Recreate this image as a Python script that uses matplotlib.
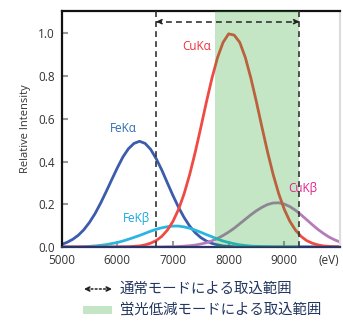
import matplotlib
matplotlib.use("Agg")
import matplotlib.pyplot as plt
from matplotlib.patches import Rectangle

plt.rcParams['font.family'] = ['Open Sans', 'Noto Sans CJK JP', 'DejaVu Sans']

# energy grid (eV) and relative intensities
energy = [5000, 5100, 5200, 5300, 5400, 5500, 5600, 5700, 5800, 5900,
          6000, 6100, 6200, 6300, 6400, 6500, 6600, 6700, 6800, 6900,
          7000, 7100, 7200, 7300, 7400, 7500, 7600, 7700, 7800, 7900,
          8000, 8100, 8200, 8300, 8400, 8500, 8600, 8700, 8800, 8900,
          9000, 9100, 9200, 9300, 9400, 9500, 9600, 9700, 9800, 9900, 10000]

fe_ka = [0.012, 0.022, 0.036, 0.055, 0.081, 0.115, 0.156, 0.205, 0.259, 0.315,
         0.370, 0.421, 0.460, 0.485, 0.495, 0.485, 0.457, 0.413, 0.360, 0.300,
         0.241, 0.186, 0.138, 0.098, 0.067, 0.044, 0.028, 0.017, 0.010, 0.005,
         0.003, 0.001, 0.0, 0.0, 0.0, 0.0, 0.0, 0.0, 0.0, 0.0,
         0.0, 0.0, 0.0, 0.0, 0.0, 0.0, 0.0, 0.0, 0.0, 0.0, 0.0]

fe_kb = [0.0, 0.0, 0.0, 0.0, 0.001, 0.003, 0.005, 0.008, 0.011, 0.016,
         0.021, 0.028, 0.036, 0.045, 0.054, 0.064, 0.074, 0.083, 0.090, 0.095,
         0.098, 0.098, 0.094, 0.088, 0.079, 0.069, 0.058, 0.048, 0.037, 0.028,
         0.021, 0.015, 0.010, 0.007, 0.004, 0.003, 0.002, 0.001, 0.0, 0.0,
         0.0, 0.0, 0.0, 0.0, 0.0, 0.0, 0.0, 0.0, 0.0, 0.0, 0.0]

cu_ka = [0.0, 0.0, 0.0, 0.0, 0.0, 0.0, 0.0, 0.0, 0.0, 0.0,
         0.0, 0.001, 0.001, 0.003, 0.005, 0.010, 0.018, 0.030, 0.050, 0.079,
         0.120, 0.176, 0.249, 0.339, 0.444, 0.559, 0.678, 0.790, 0.887, 0.958,
         0.998, 0.992, 0.958, 0.887, 0.790, 0.678, 0.559, 0.444, 0.339, 0.249,
         0.176, 0.120, 0.079, 0.050, 0.030, 0.018, 0.010, 0.005, 0.003, 0.001, 0.001]

cu_kb = [0.0, 0.0, 0.0, 0.0, 0.0, 0.0, 0.0, 0.0, 0.0, 0.0,
         0.0, 0.0, 0.0, 0.0, 0.0, 0.0, 0.0, 0.0, 0.0, 0.001,
         0.001, 0.002, 0.004, 0.006, 0.009, 0.014, 0.020, 0.029, 0.040, 0.054,
         0.070, 0.088, 0.109, 0.130, 0.151, 0.170, 0.186, 0.199, 0.206, 0.207,
         0.201, 0.189, 0.172, 0.151, 0.128, 0.105, 0.083, 0.064, 0.047, 0.034, 0.023]

normal_range = [6700, 9270]      # 通常モード
reduced_range = [7750, 9270]     # 蛍光低減モード
x_ticks = [5000, 6000, 7000, 8000, 9000, 9800]
x_labels = ['5000', '6000', '7000', '8000', '9000', '(eV)']
y_ticks = [0.0, 0.2, 0.4, 0.6, 0.8, 1.0]

W, H = 343, 333
fig = plt.figure(figsize=(W / 100, H / 100), dpi=100)
ax = fig.add_axes([61.6 / W, 1 - 247 / H, (340 - 61.6) / W, (247 - 11) / H])

lw = 2.0
ax.plot(energy, fe_ka, color='#3b5cad', lw=lw, zorder=2)
ax.plot(energy, cu_kb, color='#b47cba', lw=lw, zorder=2)
ax.plot(energy, fe_kb, color='#2bb6e0', lw=lw, zorder=2)
ax.plot(energy, cu_ka, color='#f04a45', lw=lw, zorder=2)

# green band lies over the curves
ax.axvspan(reduced_range[0], reduced_range[1], color=(0.145, 0.64, 0.17),
           alpha=0.27, lw=0, zorder=3)

for xv in normal_range:
    ax.axvline(xv, color='#333333', lw=1.2, ls=(0, (3.5, 2.5)), zorder=4)

# dashed double arrow along the top
ya = 1.055
ax.plot(normal_range, [ya, ya], color='#333333', lw=1.2, ls=(0, (3.5, 2.5)), zorder=4)
ax.annotate('', xy=(normal_range[0], ya), xytext=(normal_range[0] + 90, ya),
            arrowprops=dict(arrowstyle='->', color='#222222', lw=1.2,
                            shrinkA=0, shrinkB=0, mutation_scale=7), zorder=5)
ax.annotate('', xy=(normal_range[1], ya), xytext=(normal_range[1] - 90, ya),
            arrowprops=dict(arrowstyle='->', color='#222222', lw=1.2,
                            shrinkA=0, shrinkB=0, mutation_scale=7), zorder=5)

# peak labels
ax.text(6105, 0.556, 'FeKα', color='#2f6cb3', fontsize=8.5, ha='center', va='center')
ax.text(7419, 0.938, 'CuKα', color='#ee2e38', fontsize=8.5, ha='center', va='center')
ax.text(6345, 0.134, 'FeKβ', color='#1aa7e0', fontsize=8.5, ha='center', va='center')
ax.text(9328, 0.275, 'CuKβ', color='#e0208c', fontsize=8.5, ha='center', va='center')

ax.set_xlim(5000, 10000)
ax.set_ylim(0, 1.105)
ax.set_xticks(x_ticks)
ax.set_xticklabels(x_labels)
ax.set_yticks(y_ticks)
ax.set_yticklabels([f'{v:.1f}' for v in y_ticks])
ax.xaxis.get_major_ticks()[-1].tick1line.set_visible(False)
ax.tick_params(direction='in', length=4, width=1.5, color='#999999',
               labelsize=8.5, labelcolor='#333333')
ax.tick_params(axis='x', pad=5)
ax.tick_params(axis='y', pad=5)
ax.set_ylabel('Relative Intensity', fontsize=8, color='#333333', labelpad=5)

ax.spines['top'].set_color('#111111')
ax.spines['left'].set_color('#111111')
ax.spines['bottom'].set_color('#2a3466')
ax.spines['right'].set_color('#dddddd')
for s in ax.spines.values():
    s.set_linewidth(1.6)

# legend below the chart, figure pixel coords
txt_col = '#22365f'
ly1 = H - 289
ly2 = H - 310.5
ax.annotate('', xy=(110, ly1), xytext=(87, ly1), xycoords='figure pixels',
            textcoords='figure pixels', annotation_clip=False,
            arrowprops=dict(arrowstyle='-', color='#333333', lw=1.2,
                            ls=(0, (1, 1.5)), shrinkA=0, shrinkB=0))
ax.annotate('', xy=(84, ly1), xytext=(89, ly1), xycoords='figure pixels',
            textcoords='figure pixels', annotation_clip=False,
            arrowprops=dict(arrowstyle='->', color='#222222', lw=1.2,
                            shrinkA=0, shrinkB=0, mutation_scale=7))
ax.annotate('', xy=(112, ly1), xytext=(107, ly1), xycoords='figure pixels',
            textcoords='figure pixels', annotation_clip=False,
            arrowprops=dict(arrowstyle='->', color='#222222', lw=1.2,
                            shrinkA=0, shrinkB=0, mutation_scale=7))
ax.annotate('通常モードによる取込範囲', xy=(120, ly1), xycoords='figure pixels',
            annotation_clip=False, fontsize=10.4, color=txt_col, va='center')

fig.add_artist(Rectangle((82.7 / W, 1 - 314.3 / H), 29.6 / W, 8.6 / H,
                         transform=fig.transFigure, facecolor='#c4e6c6', lw=0))
ax.annotate('蛍光低減モードによる取込範囲', xy=(120, ly2), xycoords='figure pixels',
            annotation_clip=False, fontsize=10.4, color=txt_col, va='center')

fig.savefig('out.png', dpi=100)
